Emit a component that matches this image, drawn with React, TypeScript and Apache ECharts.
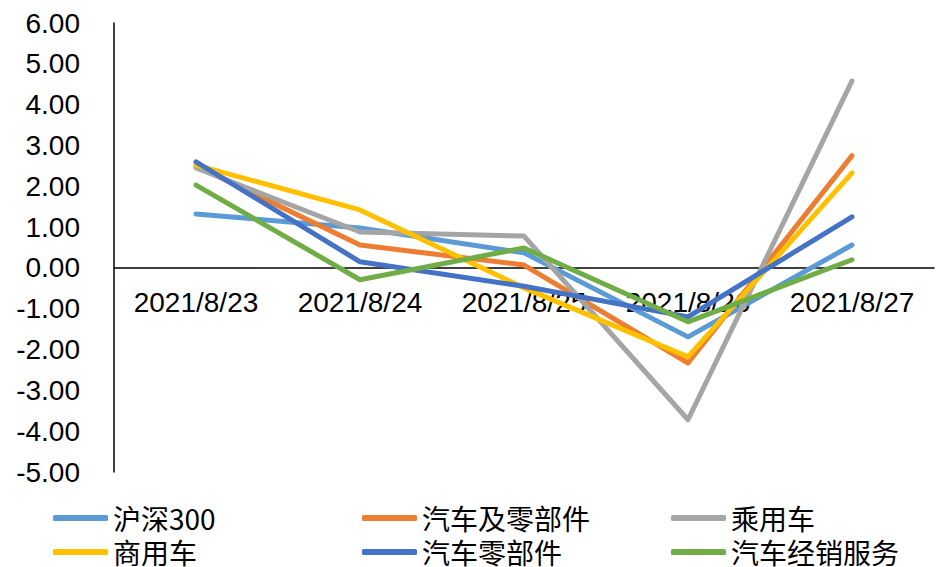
import React, { useEffect, useRef } from "react";
import * as echarts from "echarts";

const categories = ["2021/8/23", "2021/8/24", "2021/8/25", "2021/8/26", "2021/8/27"];
const seriesNames = ["沪深300", "汽车及零部件", "乘用车", "商用车", "汽车零部件", "汽车经销服务"];
const hs300 = [1.32, 0.98, 0.37, -1.69, 0.56];
const autoParts = [2.5, 0.56, 0.07, -2.33, 2.75];
const passenger = [2.45, 0.88, 0.78, -3.72, 4.58];
const commercial = [2.52, 1.42, -0.49, -2.18, 2.33];
const components = [2.6, 0.15, -0.45, -1.2, 1.25];
const dealers = [2.03, -0.29, 0.49, -1.32, 0.2];
const colors = ["#5B9BD5", "#ED7D31", "#A5A5A5", "#FFC000", "#4472C4", "#70AD47"];
const yTicks = { min: -5, max: 6, interval: 1 };

export default function App() {
  const ref = useRef<HTMLDivElement>(null);
  useEffect(() => {
    if (!ref.current) return;
    const chart = echarts.init(ref.current, undefined, { renderer: "svg" });
    const data = [hs300, autoParts, passenger, commercial, components, dealers];
    const legendText = {
      fontSize: 28,
      lineHeight: 28,
      color: "#000",
      fontFamily: "'Noto Sans CJK SC', 'Liberation Sans', sans-serif",
    };
    const legendLefts = [53, 362, 671, 53, 362, 671];
    const legendTops = [504, 504, 504, 538, 538, 538];
    const legendOrder = [0, 1, 2, 3, 4, 5];
    chart.setOption({
      animation: false,
      color: colors,
      grid: { left: 114, right: 2, top: 23, bottom: 95, containLabel: false },
      xAxis: {
        type: "category",
        data: categories,
        boundaryGap: true,
        axisLine: { onZero: true, lineStyle: { color: "#000", width: 1.5 } },
        axisTick: { show: false },
        axisLabel: {
          fontSize: 28,
          color: "#000",
          margin: -184,
          fontFamily: "'Liberation Sans', Arial, sans-serif",
        },
      },
      yAxis: {
        type: "value",
        min: yTicks.min,
        max: yTicks.max,
        interval: yTicks.interval,
        axisLine: { show: true, lineStyle: { color: "#000", width: 1.5 } },
        axisTick: { show: false },
        splitLine: { show: false },
        axisLabel: {
          fontSize: 28,
          color: "#000",
          margin: 34,
          fontFamily: "'Liberation Sans', Arial, sans-serif",
          formatter: (v: number) => v.toFixed(2),
        },
      },
      legend: legendOrder.map((idx, k) => ({
        orient: "horizontal",
        left: legendLefts[k],
        top: legendTops[k],
        padding: 0,
        itemGap: 0,
        itemWidth: 55,
        itemHeight: 6,
        icon: "roundRect",
        textStyle: legendText,
        data: [seriesNames[idx]],
      })),
      series: seriesNames.map((name, i) => ({
        name,
        type: "line",
        data: data[i],
        symbol: "none",
        lineStyle: { width: 5, cap: "round", join: "round", color: colors[i] },
        itemStyle: { color: colors[i] },
      })),
    });
    return () => chart.dispose();
  }, []);
  return (
    <div
      ref={ref}
      style={{ position: "fixed", left: 0, top: 0, width: 936, height: 567, background: "#fff" }}
    />
  );
}
